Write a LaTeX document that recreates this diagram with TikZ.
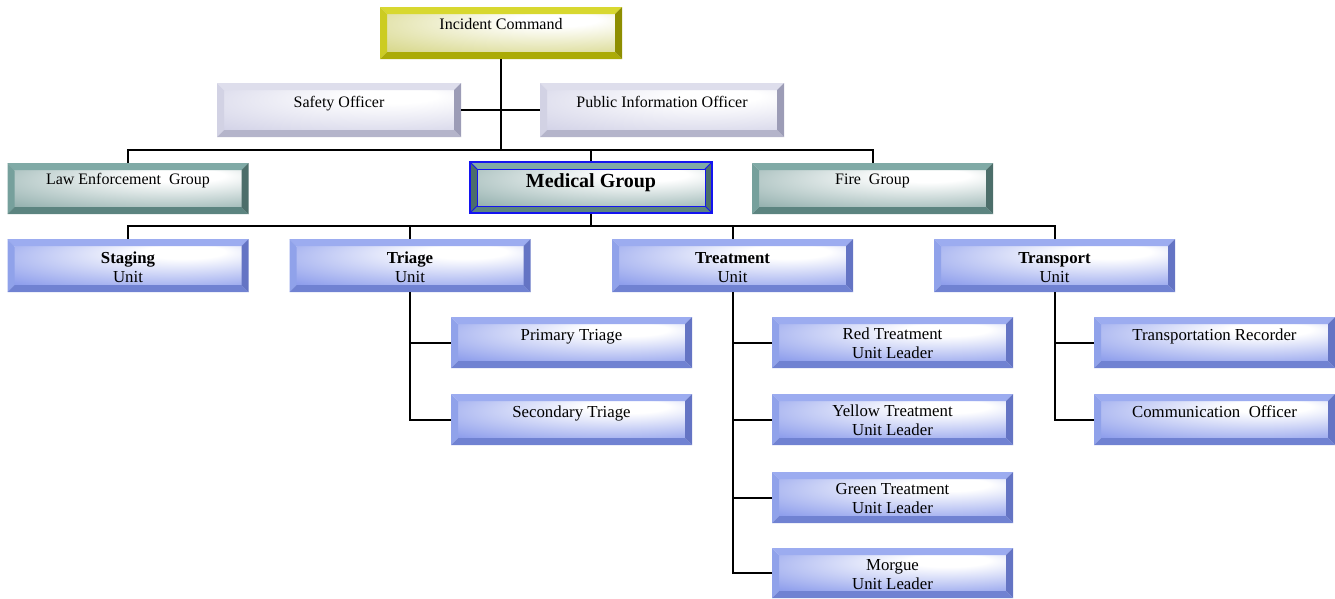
\documentclass[tikz,border=0pt]{standalone}
\usepackage{fontspec}
\setmainfont{Liberation Serif}
\usetikzlibrary{calc}

% bevel palettes: top, left, bottom, right, face tint
\definecolor{ictop}{HTML}{D8D830}
\definecolor{icleft}{HTML}{CCCC22}
\definecolor{icbottom}{HTML}{ABAB06}
\definecolor{icright}{HTML}{8E8E00}
\definecolor{icface}{HTML}{D8D88C}

\definecolor{lvtop}{HTML}{DEDEEC}
\definecolor{lvleft}{HTML}{D2D2E4}
\definecolor{lvbottom}{HTML}{B4B4CA}
\definecolor{lvright}{HTML}{9C9CB6}
\definecolor{lvface}{HTML}{D4D4E8}

\definecolor{tltop}{HTML}{80AAA6}
\definecolor{tlleft}{HTML}{76A09C}
\definecolor{tlbottom}{HTML}{5C8480}
\definecolor{tlright}{HTML}{4C6E6A}
\definecolor{tlface}{HTML}{96B2B0}

\definecolor{bltop}{HTML}{9CACF0}
\definecolor{blleft}{HTML}{90A2EA}
\definecolor{blbottom}{HTML}{7082D2}
\definecolor{blright}{HTML}{6474C4}
\definecolor{blface}{HTML}{8E9EEC}

\definecolor{rimblue}{HTML}{1414F0}

% face shadings, light towards the upper right
\pgfdeclareradialshading{faceyellow}{\pgfpoint{14bp}{20bp}}{color(0bp)=(white); color(9bp)=(white); color(44bp)=(icface); color(75bp)=(icface)}
\pgfdeclareradialshading{facelavender}{\pgfpoint{14bp}{20bp}}{color(0bp)=(white); color(9bp)=(white); color(44bp)=(lvface); color(75bp)=(lvface)}
\pgfdeclareradialshading{faceteal}{\pgfpoint{14bp}{20bp}}{color(0bp)=(white); color(9bp)=(white); color(44bp)=(tlface); color(75bp)=(tlface)}
\pgfdeclareradialshading{faceblue}{\pgfpoint{14bp}{20bp}}{color(0bp)=(white); color(9bp)=(white); color(44bp)=(blface); color(75bp)=(blface)}

\def\bw{7pt}
% #1 top, #2 left, #3 bottom, #4 right, #5 face shading
\newcommand\drawbevel[5]{%
  \coordinate (bvNW) at (path picture bounding box.north west);
  \coordinate (bvNE) at (path picture bounding box.north east);
  \coordinate (bvSW) at (path picture bounding box.south west);
  \coordinate (bvSE) at (path picture bounding box.south east);
  \shade[shading=#5] ([shift={(\bw,-\bw)}]bvNW) rectangle ([shift={(-\bw,\bw)}]bvSE);
  \fill[#1] (bvNW) -- (bvNE) -- ([shift={(-\bw,-\bw)}]bvNE) -- ([shift={(\bw,-\bw)}]bvNW) -- cycle;
  \fill[#2] (bvNW) -- ([shift={(\bw,-\bw)}]bvNW) -- ([shift={(\bw,\bw)}]bvSW) -- (bvSW) -- cycle;
  \fill[#3] (bvSW) -- ([shift={(\bw,\bw)}]bvSW) -- ([shift={(-\bw,\bw)}]bvSE) -- (bvSE) -- cycle;
  \fill[#4] (bvNE) -- (bvSE) -- ([shift={(-\bw,\bw)}]bvSE) -- ([shift={(-\bw,-\bw)}]bvNE) -- cycle;
}
% blue rim with mitred corners
\newcommand\drawrim{%
  \draw[rimblue, line width=0.8pt] ([shift={(\bw,-\bw)}]bvNW) rectangle ([shift={(-\bw,\bw)}]bvSE);
  \draw[rimblue, line width=0.8pt] (bvNW) -- ++(\bw,-\bw) (bvNE) -- ++(-\bw,-\bw)
        (bvSW) -- ++(\bw,\bw) (bvSE) -- ++(-\bw,\bw);
}

\newcommand\twolines[2]{\begin{tabular}[t]{@{}c@{}}#1\\#2\end{tabular}}

\begin{document}
\begin{tikzpicture}[x=1pt, y=-1pt,
  boxbase/.style={inner sep=0pt, minimum width=242pt, align=center},
  topfont/.style={font=\fontsize{16}{19}\selectfont},
  lowfont/.style={font=\fontsize{16.8}{19.4}\selectfont},
  icbox/.style={boxbase, topfont, text height=22.5pt, text depth=29.5pt,
    path picture={\drawbevel{ictop}{icleft}{icbottom}{icright}{faceyellow}}},
  staffbox/.style={boxbase, topfont, minimum width=244pt, text height=24pt, text depth=30pt,
    path picture={\drawbevel{lvtop}{lvleft}{lvbottom}{lvright}{facelavender}}},
  groupbox/.style={boxbase, topfont, minimum width=241pt, text height=21.3pt, text depth=29.7pt,
    path picture={\drawbevel{tltop}{tlleft}{tlbottom}{tlright}{faceteal}}},
  medbox/.style={boxbase, font=\fontsize{20}{24}\selectfont\bfseries, text height=25.7pt, text depth=25.3pt,
    draw=rimblue, line width=1.2pt,
    path picture={\drawbevel{tltop}{tlright}{tlbottom}{tlright}{faceteal}\drawrim}},
  unitbox/.style={boxbase, lowfont, minimum width=241pt, text height=24.3pt, text depth=28.7pt,
    path picture={\drawbevel{bltop}{blleft}{blbottom}{blright}{faceblue}}},
  subbox/.style={boxbase, lowfont, minimum width=241pt, text height=23pt, text depth=28pt,
    path picture={\drawbevel{bltop}{blleft}{blbottom}{blright}{faceblue}}},
  leaderbox/.style={subbox, font=\fontsize{16.8}{19.5}\selectfont, text height=22pt, text depth=29pt},
  link/.style={draw=black, line width=2pt}
]
\useasboundingbox (0,0) rectangle (1335,598);

% command and staff
\node[icbox] (ic) at (501,33) {Incident Command};
\node[staffbox] (safety) at (339,110) {Safety Officer};
\node[staffbox] (pio) at (662,110) {Public Information Officer};

% groups
\node[groupbox] (law) at (128,188.5) {Law Enforcement~~Group};
\node[medbox] (medical) at (591,187.5) {Medical Group};
\node[groupbox] (fire) at (872.5,188.5) {Fire~~Group};

% units
\node[unitbox] (staging) at (128,265.5) {\twolines{\textbf{Staging}}{Unit}};
\node[unitbox] (triage) at (410,265.5) {\twolines{\textbf{Triage}}{Unit}};
\node[unitbox] (treatment) at (732.5,265.5) {\twolines{\textbf{Treatment}}{Unit}};
\node[unitbox] (transport) at (1054.5,265.5) {\twolines{\textbf{Transport}}{Unit}};

% triage subunits
\node[subbox] (primary) at (571.5,342.5) {Primary Triage};
\node[subbox] (secondary) at (571.5,419.5) {Secondary Triage};

% treatment leaders
\node[leaderbox] (red) at (892.5,342.5) {\twolines{Red Treatment}{Unit Leader}};
\node[leaderbox] (yellow) at (892.5,419.5) {\twolines{Yellow Treatment}{Unit Leader}};
\node[leaderbox] (green) at (892.5,497.5) {\twolines{Green Treatment}{Unit Leader}};
\node[leaderbox, text depth=28pt] (morgue) at (892.5,573) {\twolines{Morgue}{Unit Leader}};

% transport subunits
\node[subbox] (recorder) at (1214.5,342.5) {Transportation Recorder};
\node[subbox] (comms) at (1214.5,419.5) {Communication~~Officer};

% bus lines
\coordinate (busA) at (0,150);
\coordinate (busB) at (0,226);

\draw[link] (ic.south) -- (ic.south |- busA);
\draw[link] (safety.east) -- (pio.west);
\draw[link] (law.north) -- (law.north |- busA) -- (fire.north |- busA) -- (fire.north);
\draw[link] (medical.north |- busA) -- (medical.north);

\draw[link] (medical.south) -- (medical.south |- busB);
\draw[link] (staging.north) -- (staging.north |- busB) -- (transport.north |- busB) -- (transport.north);
\draw[link] (triage.north |- busB) -- (triage.north);
\draw[link] (treatment.north |- busB) -- (treatment.north);

\draw[link] (triage.south) |- (secondary.west);
\draw[link] (triage.south |- primary.west) -- (primary.west);

\draw[link] (treatment.south) |- (morgue.west);
\draw[link] (treatment.south |- red.west) -- (red.west);
\draw[link] (treatment.south |- yellow.west) -- (yellow.west);
\draw[link] (treatment.south |- green.west) -- (green.west);

\draw[link] (transport.south) |- (comms.west);
\draw[link] (transport.south |- recorder.west) -- (recorder.west);
\end{tikzpicture}
\end{document}
